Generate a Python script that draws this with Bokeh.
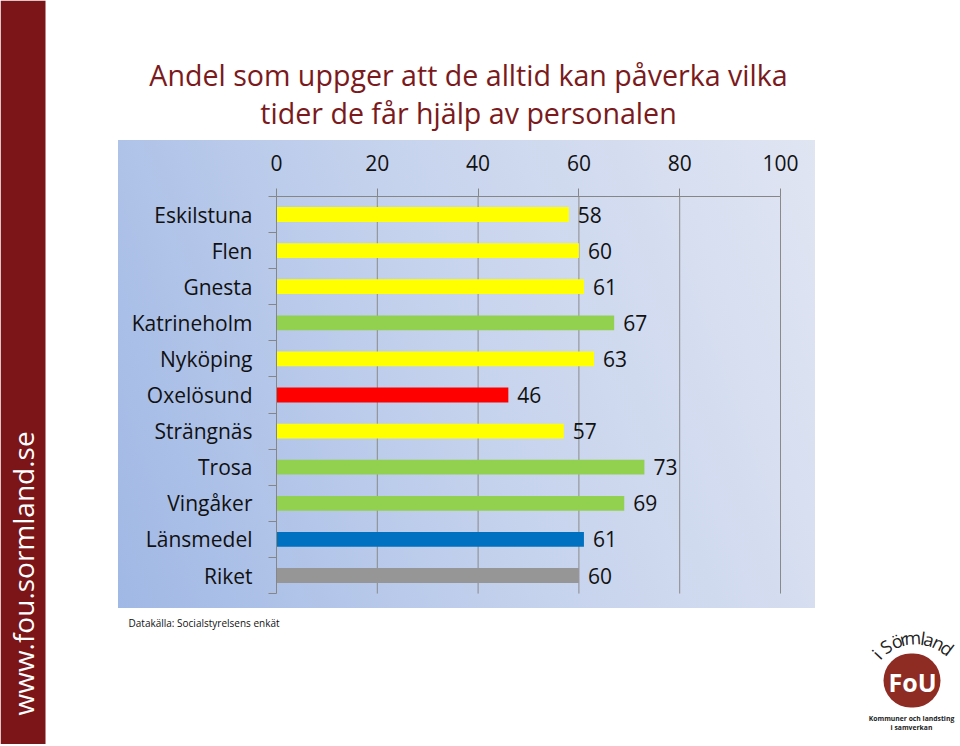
import math
from bokeh.plotting import figure
from bokeh.models import (Range1d, FixedTicker, Label, BoxAnnotation, LinearAxis,
                          ColumnDataSource, InlineStyleSheet)
from bokeh.embed import file_html
from bokeh.resources import INLINE
from bokeh.core.properties import value

# ---------------- data ----------------
categories = ["Eskilstuna", "Flen", "Gnesta", "Katrineholm", "Nyköping",
              "Oxelösund", "Strängnäs", "Trosa", "Vingåker", "Länsmedel", "Riket"]
values = [58, 60, 61, 67, 63, 46, 57, 73, 69, 61, 60]
colors = ["#FFFF00", "#FFFF00", "#FFFF00", "#92D050", "#FFFF00",
          "#FF0000", "#FFFF00", "#92D050", "#92D050", "#0070C0", "#969696"]
x_ticks = [0, 20, 40, 60, 80, 100]
title_lines = ["Andel som uppger att de alltid kan påverka vilka",
               "tider de får hjälp av personalen"]
source_text = "Datakälla: Socialstyrelsens enkät"
side_text = "www.fou.sormland.se"

FONT = "Open Sans"
W, H = 958, 744

# layout of the plotting scale on the canvas (pixels)
PX0, PXU = 276.0, 5.04      # pixel of value 0, pixels per unit
PY0, PYU = 214.0, 36.1      # pixel of first category centre, pixels per category

n = len(categories)
ypos = list(range(n))
bounds_y = [i - 0.5 for i in range(n + 1)]
src = ColumnDataSource(dict(y=ypos, v=values, c=colors, t=[str(v) for v in values]))

css = InlineStyleSheet(css="""
:host {
  background-color: #ffffff;
  background-image: linear-gradient(70deg, #a0b8e5 0%, #c6d3ed 50%, #e0e5f2 100%);
  background-repeat: no-repeat;
  background-position: 118px 140px;
  background-size: 697px 468px;
}
""")

p = figure(width=W, height=H, output_backend="svg", toolbar_location=None,
           title=None,
           x_range=Range1d(-PX0 / PXU, (W - PX0) / PXU),
           y_range=Range1d((H - PY0) / PYU, -PY0 / PYU),
           x_axis_location=None, y_axis_location=None,
           min_border=0, min_border_left=0, min_border_right=0,
           min_border_top=0, min_border_bottom=0,
           stylesheets=[css])
p.border_fill_color = None
p.background_fill_color = None
p.outline_line_color = None
p.xgrid.visible = False
p.ygrid.visible = False

# left sidebar
p.add_layout(BoxAnnotation(left=0, right=45, top=0, bottom=H,
                           left_units="canvas", right_units="canvas",
                           top_units="canvas", bottom_units="canvas",
                           fill_color="#7b1517", fill_alpha=1, line_color=None,
                           level="underlay"))

# grid lines
p.segment(x0=x_ticks[1:], x1=x_ticks[1:], y0=bounds_y[0], y1=bounds_y[-1],
          line_color="#8a8a8a", line_width=1)

# top axis
xa = LinearAxis(fixed_location=bounds_y[0], bounds=(x_ticks[0], x_ticks[-1]),
                ticker=FixedTicker(ticks=x_ticks, minor_ticks=[]))
xa.axis_line_color = "#868686"
xa.major_tick_line_color = "#868686"
xa.major_tick_out = 8
xa.major_tick_in = 0
xa.minor_tick_line_color = None
xa.major_label_standoff = 17
xa.major_label_text_font = FONT
xa.major_label_text_font_size = "21px"
xa.major_label_text_color = "#111111"
p.add_layout(xa, "above")

# left axis
ya = LinearAxis(fixed_location=x_ticks[0], bounds=(bounds_y[0], bounds_y[-1]),
                ticker=FixedTicker(ticks=ypos, minor_ticks=bounds_y))
ya.major_label_overrides = {i: categories[i] for i in ypos}
ya.axis_line_color = "#868686"
ya.major_tick_line_color = None
ya.major_tick_out = 0
ya.major_tick_in = 0
ya.minor_tick_line_color = "#868686"
ya.minor_tick_out = 8
ya.minor_tick_in = 0
ya.major_label_standoff = 16
ya.major_label_text_font = FONT
ya.major_label_text_font_size = "21px"
ya.major_label_text_color = "#111111"
p.add_layout(ya, "left")

p.hbar(y="y", left=0, right="v", height=0.41, fill_color="c",
       line_color=None, source=src)
p.text(x="v", y="y", text="t", x_offset=9, text_baseline="middle",
       text_align="left", text_font=value(FONT), text_font_size="21px",
       text_color="#111111", source=src)

# ---------------- decorations ----------------
p.add_layout(Label(x=22, y=715, x_units="canvas", y_units="canvas",
                   text=side_text, angle=math.pi / 2, text_align="left",
                   text_baseline="middle", text_font=FONT,
                   text_font_size="28px", text_color="#ffffff"))

for i, line in enumerate(title_lines):
    p.add_layout(Label(x=468, y=74 + 38 * i, x_units="canvas", y_units="canvas",
                       text=line, text_align="center", text_baseline="middle",
                       text_font=FONT, text_font_size="28.6px",
                       text_color="#7a1a1c"))

p.add_layout(Label(x=128, y=622, x_units="canvas", y_units="canvas",
                   text=source_text, text_align="left", text_baseline="middle",
                   text_font=FONT, text_font_size="10px", text_color="#111111"))

# logo
p.add_layout(BoxAnnotation(left=883, right=940, top=653, bottom=707,
                           left_units="canvas", right_units="canvas",
                           top_units="canvas", bottom_units="canvas",
                           border_radius=27, fill_color="#8e2c24", fill_alpha=1,
                           line_color=None))
p.add_layout(Label(x=912, y=681, x_units="canvas", y_units="canvas",
                   text="FoU", text_align="center", text_baseline="middle",
                   text_font=FONT, text_font_style="bold",
                   text_font_size="25px", text_color="#ffffff"))
logo_letters = ["i", "S", "ö", "r", "m", "l", "a", "n", "d"]
logo_angles = [137, 124, 111, 103, 93, 82, 75, 64, 53]
cx, cy, r = 915, 690, 53
for ch, a in zip(logo_letters, logo_angles):
    rad = math.radians(a)
    p.add_layout(Label(x=cx + r * math.cos(rad), y=cy - r * math.sin(rad),
                       x_units="canvas", y_units="canvas", text=ch,
                       angle=rad - math.pi / 2, text_align="center",
                       text_baseline="middle", text_font=FONT,
                       text_font_size="18px", text_color="#222222"))
p.add_layout(Label(x=911, y=718, x_units="canvas", y_units="canvas",
                   text="Kommuner och landsting", text_align="center",
                   text_baseline="middle", text_font=FONT, text_font_style="bold",
                   text_font_size="6.8px", text_color="#222222"))
p.add_layout(Label(x=911, y=727, x_units="canvas", y_units="canvas",
                   text="i samverkan", text_align="center",
                   text_baseline="middle", text_font=FONT, text_font_style="bold",
                   text_font_size="6.8px", text_color="#222222"))

open("out.html", "w").write(file_html(p, INLINE))
